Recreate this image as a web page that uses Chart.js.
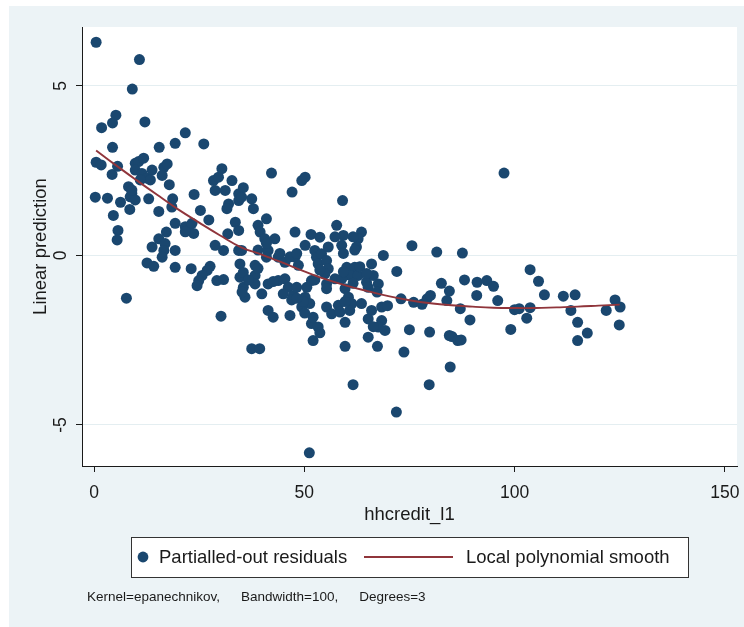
<!DOCTYPE html>
<html>
<head>
<meta charset="utf-8">
<script src="https://cdn.jsdelivr.net/npm/chart.js@4.4.1/dist/chart.umd.min.js"></script>
<style>
  html, body { margin: 0; padding: 0; background: #fff; overflow: hidden; }
  canvas { display: block; }
</style>
</head>
<body>
<canvas id="lpolyChart" width="744" height="627"></canvas>
<script>
// Partialled-out residuals (hhcredit_l1 vs linear prediction)
const residX = [
  0.5, 10.8, 9.1, 5.2, 4.4, 1.8, 12.1, 21.7, 19.3, 26.1, 15.5, 4.4, 0.5, 1.7, 4.3, 5.6,
  9.8, 10.6, 11.8, 9.8, 11.4, 12.6, 13.8, 13.4, 11.0, 16.6, 17.4, 16.2, 17.9,
  8.2, 9.0, 8.6, 9.8, 9.0, 0.3, 3.2, 6.3, 8.5, 4.6, 5.7, 5.5, 13.0, 15.4, 18.7, 18.5,
  19.3, 23.8, 25.3, 21.7, 22.5, 23.3, 23.7, 21.7, 27.3, 17.2, 15.4, 16.9, 13.8, 16.6, 19.3,
  28.4, 29.6, 30.4, 28.8, 31.2, 32.8, 32.0, 31.6, 34.4, 34.4, 33.6, 34.4, 31.8, 28.8, 30.8, 34.4,
  42.2, 47.1, 49.4, 50.2, 59.1, 35.5, 35.1, 37.5, 37.9, 41.0, 39.0, 39.5, 40.6, 43.0,
  47.8, 51.6, 53.7, 57.7, 59.3, 58.9, 63.6, 62.8, 62.4, 68.8,
  35.1, 34.7, 38.3, 41.4, 41.0, 43.8, 45.4, 47.8, 48.6, 50.2, 52.5, 52.9, 53.3, 54.1, 55.7, 55.3, 55.7,
  60.1, 62.0, 60.9, 62.8, 64.8, 66.0, 66.4, 67.6,
  34.7, 35.5, 35.9, 38.3, 38.3, 39.9, 41.4, 43.8, 45.4, 46.2, 45.0, 47.4, 48.2,
  50.6, 50.2, 51.3, 49.4, 51.7, 54.9, 55.3, 55.3, 57.3, 58.9, 59.7, 60.5, 61.3, 58.1, 55.3, 56.5, 59.7,
  63.6, 66.0, 65.2, 68.4, 68.4, 67.6, 69.8, 41.4, 42.6, 46.6, 51.7, 53.3, 52.1, 52.1,
  37.5, 39.4, 59.7, 65.2, 67.4, 65.2, 69.2, 72.0,
  16.2, 12.6, 14.2, 19.3, 23.1, 27.6, 26.9, 25.7, 24.9, 24.5, 29.2, 30.8, 7.7, 30.2, 35.2,
  51.2, 61.6, 53.7, 60.8, 58.5, 35.5, 36.7, 39.0, 42.6, 47.0, 52.5, 53.7, 41.0, 44.2, 46.6, 48.2,
  59.3, 63.2, 64.8, 61.6, 67.3,
  73.0, 75.6, 75.0, 73.7, 71.9, 76.0, 78.0, 79.2, 80.0, 81.5, 79.8, 79.7, 82.6, 84.5, 83.9,
  84.5, 85.1, 86.5, 87.3, 84.7, 87.6, 88.1, 87.1, 89.4, 91.1, 93.4, 95.0, 91.0, 96.0, 99.1,
  100.0, 101.1, 103.7, 105.7, 103.7, 102.9, 107.1, 111.6, 114.4, 113.4, 115.0, 115.0, 117.3,
  121.8, 123.9, 125.1, 124.9, 97.5,
  66.4, 59.7, 50.1, 49.7, 61.6, 57.3, 59.3, 62.0, 39.0, 48.2
];
const residY = [
  6.29, 5.78, 4.91, 4.14, 3.91, 3.77, 3.94, 3.62, 3.31, 3.29, 3.19, 3.19, 2.75, 2.67, 2.39, 2.63,
  2.72, 2.77, 2.87, 2.52, 2.42, 2.28, 2.52, 2.23, 2.23, 2.60, 2.70, 2.36, 2.09,
  2.03, 1.83, 1.73, 1.64, 1.93, 1.72, 1.69, 1.57, 1.36, 1.18, 0.74, 0.46, 1.67, 1.30, 1.67, 1.43,
  0.95, 1.80, 1.33, 0.85, 0.75, 0.95, 0.65, 0.70, 1.05, 0.69, 0.49, 0.35, 0.25, 0.15, 0.15,
  2.21, 2.31, 2.56, 1.92, 1.92, 2.21, 1.52, 1.38, 1.82, 1.62, 0.98, 0.74, 0.64, 0.30, 0.15, 0.15,
  2.43, 1.87, 2.21, 2.31, 1.62, 2.00, 1.72, 1.67, 1.38, 1.08, 0.89, 0.69, 0.49, 0.49,
  0.69, 0.62, 0.54, 0.89, 0.59, 0.30, 0.69, 0.49, 0.25, 0.00,
  0.15, -0.25, -0.29, 0.15, -0.05, -0.05, -0.20, -0.05, -0.29, 0.30, 0.15, -0.05, -0.25, 0.05, 0.25, -0.15, -0.39,
  -0.35, -0.35, -0.59, -0.59, -0.79, -0.25, -0.59, -0.84,
  -0.64, -0.94, -1.23, -0.59, -0.84, -1.13, -0.84, -0.74, -0.69, -0.94, -1.13, -1.18, -0.94,
  -0.94, -1.23, -1.42, -1.52, -0.74, -0.54, -0.84, -0.98, -0.69, -0.69, -0.98, -1.23, -1.42, -1.47, -1.52, -1.72, -1.97,
  -1.42, -1.62, -0.94, -1.52, -1.92, -2.11, -1.48, -1.62, -1.82, -1.77, -2.01, -2.11, -1.82, -2.51,
  -2.75, -2.75, -2.68, -2.41, -2.68, -1.87, -2.21, -0.47,
  -0.05, -0.22, -0.32, -0.35, -0.39, -0.32, -0.44, -0.59, -0.74, -0.89, -0.74, -0.71, -1.26, -1.79, -1.08,
  -5.82, -3.81, -2.28, -1.62, -1.67, -0.50, -0.72, -0.38, -0.77, -1.31, -0.72, -0.43, 0.36, 0.06, -0.04, 0.06,
  -0.48, -0.33, -0.53, 0.55, -1.08,
  -1.28, 0.29, -2.19, -2.85, -4.62, -1.38, -1.44, -1.28, -1.18, 0.10, -2.26, -3.81, -0.82, -1.05, -1.33,
  -2.36, -2.39, -2.51, -2.49, -3.29, 0.07, -0.72, -1.57, -1.90, -0.79, -0.74, -0.91, -1.18, -1.33, -2.18,
  -1.60, -1.57, -0.42, -0.76, -1.54, -1.85, -1.16, -1.20, -1.16, -1.62, -1.97, -2.51, -2.29,
  -1.62, -1.31, -1.52, -2.05, 2.43,
  -2.10, -1.36, -1.70, -1.36, -0.82, 0.55, 0.06, 0.16, 0.16, -1.26
];

// Local polynomial smooth, read at regular x positions
const smoothX = [0.5, 5, 10, 15, 20, 25, 30, 35, 40, 45, 50, 55, 60, 65, 70, 75, 80, 85, 90, 95, 100, 105, 110, 115, 120, 125];
const smoothY = [3.10, 2.68, 2.23, 1.79, 1.36, 0.97, 0.59, 0.24, 0.02, -0.22, -0.47, -0.70, -0.89, -1.05, -1.20, -1.32, -1.41, -1.47, -1.51, -1.54, -1.55, -1.55, -1.53, -1.51, -1.48, -1.45];

const xTicks = [0, 50, 100, 150];
const yTicks = [-5, 0, 5];

const xTitle = 'hhcredit_l1';
const yTitle = 'Linear prediction';
const legendLabels = ['Partialled-out residuals', 'Local polynomial smooth'];
const noteParts = ['Kernel=epanechnikov,', 'Bandwidth=100,', 'Degrees=3'];

(function () {
  const canvas = document.getElementById('lpolyChart');
  if (!canvas || typeof Chart === 'undefined') return;

  const navy = '#1a476f';
  const maroon = '#90353b';
  const panel = '#ecf3f6';
  const grid = '#e4eef1';
  const ink = '#1a1a1a';
  const font = '"Liberation Sans", Arial, Helvetica, sans-serif';

  // Stata-like frame, titles, tick labels and legend drawn on the canvas
  const stataFrame = {
    id: 'stataFrame',
    beforeDraw(chart) {
      const { ctx, chartArea: a } = chart;
      ctx.save();
      ctx.fillStyle = '#fff';
      ctx.fillRect(0, 0, chart.width, chart.height);
      ctx.fillStyle = panel;
      ctx.fillRect(9, 6, chart.width - 9, chart.height - 6);
      ctx.fillStyle = '#fff';
      ctx.fillRect(a.left, a.top, a.right - a.left, a.bottom - a.top);
      ctx.restore();
    },
    afterDraw(chart) {
      const { ctx, chartArea: a } = chart;
      const xs = chart.scales.x;
      const ys = chart.scales.y;
      ctx.save();
      ctx.fillStyle = ink;

      // y tick labels, rotated like Stata
      ctx.font = '17.5px ' + font;
      ctx.textAlign = 'center';
      ctx.textBaseline = 'middle';
      yTicks.forEach(v => {
        ctx.save();
        ctx.translate(61, ys.getPixelForValue(v));
        ctx.rotate(-Math.PI / 2);
        ctx.fillText(String(v), 0, 0);
        ctx.restore();
      });

      // y title
      ctx.font = '18.5px ' + font;
      ctx.save();
      ctx.translate(41, (a.top + a.bottom) / 2);
      ctx.rotate(-Math.PI / 2);
      ctx.fillText(yTitle, 0, 0);
      ctx.restore();

      // x tick labels
      ctx.font = '17.5px ' + font;
      ctx.textBaseline = 'alphabetic';
      xTicks.forEach(v => ctx.fillText(String(v), xs.getPixelForValue(v), 498));

      // x title
      ctx.font = '18.5px ' + font;
      ctx.fillText(xTitle, (a.left + a.right) / 2, 520);

      // legend box
      const lx = 131, ly = 537, lw = 557, lh = 40, cy = ly + lh / 2;
      ctx.fillStyle = '#fff';
      ctx.fillRect(lx, ly, lw, lh);
      ctx.strokeStyle = '#333';
      ctx.lineWidth = 1;
      ctx.strokeRect(lx + 0.5, ly + 0.5, lw, lh);

      ctx.fillStyle = navy;
      ctx.beginPath();
      ctx.arc(143, cy, 5.4, 0, Math.PI * 2);
      ctx.fill();

      ctx.strokeStyle = maroon;
      ctx.lineWidth = 1.8;
      ctx.beginPath();
      ctx.moveTo(364, cy);
      ctx.lineTo(453, cy);
      ctx.stroke();

      ctx.fillStyle = ink;
      ctx.textAlign = 'left';
      ctx.textBaseline = 'middle';
      ctx.font = '18.5px ' + font;
      ctx.fillText(legendLabels[0], 159, cy + 1);
      ctx.fillText(legendLabels[1], 466, cy + 1);

      // note, with Stata's wide gaps between the parts
      ctx.font = '13.5px ' + font;
      let nx = 87;
      noteParts.forEach(p => {
        ctx.fillText(p, nx, 597);
        nx += ctx.measureText(p).width + 21;
      });
      ctx.restore();
    }
  };

  const scatterPoints = residX.map((x, i) => ({ x, y: residY[i] }));
  const smoothPoints = smoothX.map((x, i) => ({ x, y: smoothY[i] }));

  const data = {
    datasets: [{
      type: 'line',
      label: legendLabels[1],
      data: smoothPoints,
      borderColor: maroon,
      borderWidth: 1.9,
      pointRadius: 0,
      tension: 0.4,
      fill: false,
      order: 0
    }, {
      type: 'scatter',
      label: legendLabels[0],
      data: scatterPoints,
      backgroundColor: navy,
      borderWidth: 0,
      pointRadius: 5.5,
      pointHoverRadius: 5.5,
      order: 1
    }]
  };

  const options = {
    responsive: false,
    devicePixelRatio: 1,
    animation: false,
    layout: { padding: { top: 27, right: 7, left: 0, bottom: 0 } },
    scales: {
      x: {
        type: 'linear',
        min: -2.86,
        max: 152.9,
        afterBuildTicks: s => { s.ticks = xTicks.map(v => ({ value: v })); },
        afterFit: s => { s.height = 161; },
        ticks: { display: false },
        grid: { display: true, drawOnChartArea: false, drawTicks: true, tickLength: 6, tickColor: ink, tickWidth: 1 },
        border: { display: true, color: ink, width: 1 }
      },
      y: {
        type: 'linear',
        min: -6.21,
        max: 6.74,
        afterBuildTicks: s => { s.ticks = yTicks.map(v => ({ value: v })); },
        afterFit: s => { s.width = 82; },
        ticks: { display: false },
        grid: { color: grid, lineWidth: 1, drawTicks: true, tickLength: 6, tickColor: ink, tickWidth: 1 },
        border: { display: true, color: ink, width: 1 }
      }
    },
    plugins: {
      legend: { display: false },
      tooltip: { enabled: false }
    }
  };

  try {
    new Chart(canvas.getContext('2d'), { type: 'scatter', data, options, plugins: [stataFrame] });
  } catch (e) {}
})();
</script>
</body>
</html>
